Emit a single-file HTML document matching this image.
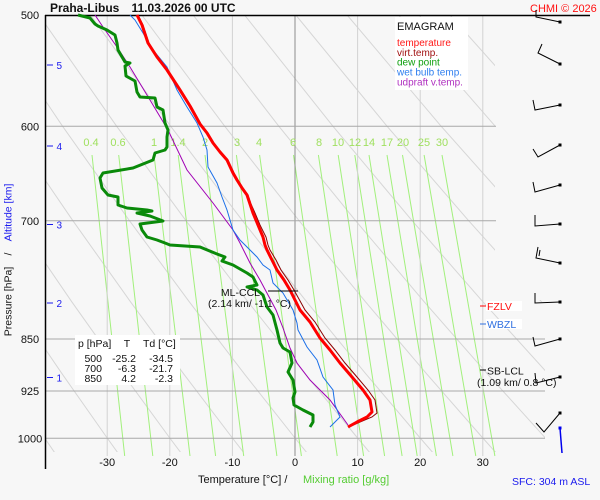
<!DOCTYPE html>
<html><head><meta charset="utf-8"><style>
html,body{margin:0;padding:0;background:#f7f7f7;}
svg{display:block;font-family:"Liberation Sans",Arial,sans-serif;}
</style></head><body>
<svg width="600" height="500" viewBox="0 0 600 500" xmlns="http://www.w3.org/2000/svg">
<defs>
<clipPath id="ca"><polygon points="45,15 495,15 495,300 545,300 545,452 45,452"/></clipPath>
</defs>
<rect x="0" y="0" width="600" height="500" fill="#f7f7f7"/>
<!-- dry adiabats -->
<g clip-path="url(#ca)" fill="none" stroke="#d6d6d6" stroke-width="1">
<polyline points="1.3,373.7 44.6,438 57,456"/>
<polyline points="13,301.8 62,373.7 107.2,438 120.1,456"/>
<polyline points="16.1,220.3 71.8,301.8 122.8,373.7 169.8,438 183.3,456"/>
<polyline points="8.5,126.3 72.6,220.3 130.5,301.8 183.5,373.7 232.4,438 246.4,456"/>
<polyline points="-12.3,15 62.6,126.3 129.2,220.3 189.3,301.8 244.2,373.7 295,438 309.5,456"/>
<polyline points="39,15 116.7,126.3 185.7,220.3 248,301.8 305,373.7 357.6,438 372.6,456"/>
<polyline points="90.4,15 170.7,126.3 242.2,220.3 306.7,301.8 365.7,373.7 420.2,438 435.8,456"/>
<polyline points="141.8,15 224.8,126.3 298.8,220.3 365.5,301.8 426.5,373.7 482.8,438 498.9,456"/>
<polyline points="193.1,15 278.9,126.3 355.3,220.3 424.2,301.8 487.2,373.7 545.4,438"/>
<polyline points="244.5,15 333,126.3 411.8,220.3 482.9,301.8 548,373.7"/>
<polyline points="295.8,15 387.1,126.3 468.3,220.3 541.6,301.8"/>
<polyline points="347.1,15 441.2,126.3 524.9,220.3"/>
<polyline points="398.5,15 495.3,126.3 581.4,220.3"/>
<polyline points="449.9,15 549.4,126.3"/>
</g>
<!-- mixing ratio lines -->
<g stroke="#a2f07c" stroke-width="1" fill="none">
<line x1="92" y1="155" x2="124.7" y2="456"/>
<line x1="118.7" y1="155" x2="152.8" y2="456"/>
<line x1="154" y1="155" x2="190" y2="456"/>
<line x1="178.2" y1="155" x2="215.6" y2="456"/>
<line x1="205" y1="155" x2="243.7" y2="456"/>
<line x1="236.4" y1="155" x2="276.9" y2="456"/>
<line x1="259.6" y1="155" x2="301.4" y2="456"/>
<line x1="293.5" y1="155" x2="337.2" y2="456"/>
<line x1="318.4" y1="155" x2="363.6" y2="456"/>
<line x1="338.2" y1="155" x2="384.6" y2="456"/>
<line x1="354.8" y1="155" x2="402.1" y2="456"/>
<line x1="369" y1="155" x2="417.2" y2="456"/>
<line x1="387" y1="155" x2="436.4" y2="456"/>
<line x1="402.5" y1="155" x2="452.9" y2="456"/>
<line x1="424.1" y1="155" x2="475.8" y2="456"/>
<line x1="442" y1="155" x2="494.9" y2="456"/>
</g>
<!-- vertical grid -->
<g stroke="#d2d2d2" stroke-width="1">
<line x1="107.2" y1="15" x2="107.2" y2="456"/>
<line x1="169.8" y1="15" x2="169.8" y2="456"/>
<line x1="232.4" y1="15" x2="232.4" y2="456"/>
<line x1="357.6" y1="15" x2="357.6" y2="456"/>
<line x1="420.2" y1="15" x2="420.2" y2="456"/>
<line x1="482.8" y1="15" x2="482.8" y2="456"/>
</g>
<line x1="295" y1="15" x2="295" y2="456" stroke="#8c8c8c" stroke-width="1"/>
<!-- horizontal grid -->
<g stroke="#a8a8a8" stroke-width="1">
<line x1="45" y1="126.3" x2="496" y2="126.3"/>
<line x1="45" y1="220.8" x2="496" y2="220.8"/>
<line x1="45" y1="339" x2="545" y2="339"/>
<line x1="45" y1="391" x2="545" y2="391"/>
<line x1="45" y1="438.3" x2="545" y2="438.3"/>
</g>
<!-- axes -->
<line x1="45.5" y1="15" x2="45.5" y2="469" stroke="#000" stroke-width="1.5"/>
<line x1="45" y1="15.5" x2="590" y2="15.5" stroke="#000" stroke-width="1.5"/>
<!-- title -->
<text x="50" y="12" font-size="12" font-weight="bold" fill="#111">Praha-Libus</text>
<text x="131.5" y="12" font-size="12" font-weight="bold" fill="#111">11.03.2026 00 UTC</text>
<text x="530" y="12" font-size="11" fill="#ff1010">CHMI © 2026</text>
<!-- pressure labels -->
<g font-size="11" fill="#111" text-anchor="middle">
<text x="30" y="19">500</text>
<text x="30" y="130.5">600</text>
<text x="30" y="225">700</text>
<text x="30" y="343">850</text>
<text x="30" y="395">925</text>
<text x="30" y="442.5">1000</text>
</g>
<!-- altitude ticks -->
<g stroke="#1a1aee" stroke-width="1">
<line x1="47" y1="65" x2="53" y2="65"/>
<line x1="47" y1="146" x2="53" y2="146"/>
<line x1="47" y1="224.5" x2="53" y2="224.5"/>
<line x1="47" y1="303" x2="53" y2="303"/>
<line x1="47" y1="377.5" x2="53" y2="377.5"/>
</g>
<g font-size="10" fill="#1a1aee">
<text x="56.5" y="69">5</text>
<text x="56.5" y="150">4</text>
<text x="56.5" y="228.5">3</text>
<text x="56.5" y="307">2</text>
<text x="56.5" y="381.5">1</text>
</g>
<!-- y axis title -->
<text transform="translate(11.5,301.5) rotate(-90)" text-anchor="middle" font-size="10.5" fill="#111">Pressure [hPa]</text>
<text transform="translate(11.5,254) rotate(-90)" text-anchor="middle" font-size="10.5" fill="#111">/</text>
<text transform="translate(11.5,212.5) rotate(-90)" text-anchor="middle" font-size="10.5" fill="#1a1aee">Altitude [km]</text>
<!-- temperature labels -->
<g font-size="11" fill="#111" text-anchor="middle">
<text x="107.2" y="466">-30</text>
<text x="169.8" y="466">-20</text>
<text x="232.4" y="466">-10</text>
<text x="295" y="466">0</text>
<text x="357.6" y="466">10</text>
<text x="420.2" y="466">20</text>
<text x="482.8" y="466">30</text>
</g>
<text x="198" y="483" font-size="11" fill="#111">Temperature [°C]  /</text>
<text x="303" y="483" font-size="11" fill="#55cc33">Mixing ratio [g/kg]</text>
<text x="512" y="485" font-size="10.5" fill="#1a1aee">SFC: 304 m ASL</text>
<!-- mixing ratio labels -->
<g font-size="11" fill="#a0e060" text-anchor="middle">
<text x="91" y="146">0.4</text>
<text x="118" y="146">0.6</text>
<text x="154" y="146">1</text>
<text x="178" y="146">1.4</text>
<text x="205" y="146">2</text>
<text x="237" y="146">3</text>
<text x="259" y="146">4</text>
<text x="293" y="146">6</text>
<text x="319" y="146">8</text>
<text x="338" y="146">10</text>
<text x="355" y="146">12</text>
<text x="369" y="146">14</text>
<text x="387" y="146">17</text>
<text x="403" y="146">20</text>
<text x="424" y="146">25</text>
<text x="442" y="146">30</text>
</g>
<!-- legend -->
<rect x="395" y="17" width="73" height="73" fill="#ffffff"/>
<text x="397" y="30" font-size="11" fill="#111">EMAGRAM</text>
<g font-size="10">
<text x="397" y="46" fill="#ff1818">temperature</text>
<text x="397" y="56" fill="#a01010">virt.temp.</text>
<text x="397" y="65.5" fill="#10a010">dew point</text>
<text x="397" y="75.5" fill="#2f7fef">wet bulb temp.</text>
<text x="397" y="85.5" fill="#b030c0">udpraft v.temp.</text>
</g>
<!-- table -->
<rect x="75" y="335" width="105" height="50" fill="#ffffff"/>
<g font-size="10.5" fill="#111">
<text x="78" y="347">p [hPa]</text>
<text x="127" y="347" text-anchor="middle">T</text>
<text x="143" y="347">Td [°C]</text>
<g text-anchor="end">
<text x="102" y="362">500</text><text x="136" y="362">-25.2</text><text x="173" y="362">-34.5</text>
<text x="102" y="372">700</text><text x="136" y="372">-6.3</text><text x="173" y="372">-21.7</text>
<text x="102" y="382">850</text><text x="136" y="382">4.2</text><text x="173" y="382">-2.3</text>
</g>
</g>
<!-- curves -->
<polyline fill="none" stroke="#a000b4" stroke-width="1" points="95,15 103,27 117,47 130,67 150,100 168,130 187,170 213,203 233,230 240,243 250,263 260,280 268,295 276,310 283,328 290,348 297,363 310,380 330,400 348,425"/>
<polyline fill="none" stroke="#1a6fe8" stroke-width="1" points="130,15 135,20 143,33 153,50 167,67 177,90 187,107 197,123 203,137 207,150 208,167 217,183 222,197 227,210 233,230 240,240 247,247 257,257 263,265 270,270 273,283 283,293 293,310 297,323 298,330 307,347 317,360 323,377 333,390 335,405 340,417 330,427"/>
<polyline fill="none" stroke="#0a8a0a" stroke-width="3" stroke-linejoin="round" points="78,15 90,18 95,24 98,26 107,30 115,35 117,43 118,50 125,62 130,63 125,66 126,76 135,81 137,92 140,97 155,98 157,107 163,110 165,123 168,130 167,137 167,147 165,150 155,153 153,160 133,168 103,173 100,178 102,188 108,195 118,197 118,205 127,208 147,210 152,211 137,213 150,216 163,221 140,224 142,230 147,237 157,240 165,243 170,245 200,247 217,254 225,257 222,261 233,265 247,273 253,277 257,285 247,287 257,290 263,295 267,307 273,315 277,330 280,343 283,348 290,352 292,363 288,372 293,380 295,392 293,398 294,405 303,410 313,415 313,422 310,427"/>
<polyline fill="none" stroke="#8b0000" stroke-width="1" points="138,15 143,25 149,43 158,57 168,70 181,90 191,106 201,124 208,133 214,143 221,152 228,160 234,173 238,180 243,188 248,195 251,204 255,213 260,225 266,237 268,245 270,250 276,260 281,270 288,280 294,290 305,310 315,322 325,338 335,350 345,363 357,377 368,390 375,400 377,413 372,417 360,422 349,427"/>
<polyline fill="none" stroke="#ff0000" stroke-width="3" stroke-linejoin="round" points="137,15 142,25 148,43 157,57 167,70 180,90 190,106 200,124 207,133 213,143 220,152 227,160 233,173 237,180 242,188 247,195 250,204 253,213 258,225 263,237 265,245 267,250 272,260 277,270 284,280 290,290 300,310 310,322 320,338 330,350 340,363 352,377 363,390 370,400 372,412 367,417 357,422 348,427"/>
<!-- ML-CCL -->
<line x1="268" y1="291" x2="298" y2="291" stroke="#000" stroke-width="1"/>
<text x="260" y="296" font-size="10.5" fill="#111" text-anchor="end">ML-CCL</text>
<text x="208" y="307" font-size="10.5" fill="#111">(2.14 km/ -1.1 °C)</text>
<!-- FZLV / WBZL / SB-LCL -->
<rect x="486" y="301" width="36" height="10" fill="#ffffff"/>
<line x1="480" y1="306" x2="486" y2="306" stroke="#ff0000"/>
<text x="487" y="310" font-size="10.5" fill="#ff1010">FZLV</text>
<rect x="486" y="319" width="36" height="10" fill="#ffffff"/>
<line x1="480" y1="324" x2="486" y2="324" stroke="#3070e0"/>
<text x="487" y="328" font-size="10.5" fill="#3070e0">WBZL</text>
<line x1="480" y1="370" x2="486" y2="370" stroke="#000"/>
<text x="487" y="374.5" font-size="10.5" fill="#111">SB-LCL</text>
<text x="477" y="386" font-size="10.5" fill="#111">(1.09 km/ 0.8 °C)</text>
<!-- wind barbs -->
<g fill="none" stroke="#000" stroke-width="1">
<polyline points="560,22 536,17 536,10"/>
<polyline points="560,64 538,53 542,44"/>
<polyline points="560,105 535,110 533,100"/>
<polyline points="560,145 538,157 533,149"/>
<polyline points="560,185 535,192 533,182"/>
<polyline points="560,224 535,226 535,215"/>
<polyline points="560,263 536,258 538,247"/>
<line x1="539" y1="256" x2="540" y2="250"/>
<polyline points="560,302 535,303 535,293"/>
<polyline points="560,339 535,346 533,337"/>
<polyline points="560,377 536,383 535,373"/>
<polyline points="560,413 544,432 536,423"/>
</g>
<g fill="#000">
<rect x="558.5" y="20.5" width="3" height="3"/>
<rect x="558.5" y="62.5" width="3" height="3"/>
<rect x="558.5" y="103.5" width="3" height="3"/>
<rect x="558.5" y="143.5" width="3" height="3"/>
<rect x="558.5" y="183.5" width="3" height="3"/>
<rect x="558.5" y="222.5" width="3" height="3"/>
<rect x="558.5" y="261.5" width="3" height="3"/>
<rect x="558.5" y="300.5" width="3" height="3"/>
<rect x="558.5" y="337.5" width="3" height="3"/>
<rect x="558.5" y="375.5" width="3" height="3"/>
<rect x="558.5" y="411.5" width="3" height="3"/>
</g>
<line x1="560" y1="428" x2="562" y2="453" stroke="#0000ee" stroke-width="1.5"/>
<rect x="558.5" y="426.5" width="3" height="3" fill="#0000ee"/>
</svg>
</body></html>
